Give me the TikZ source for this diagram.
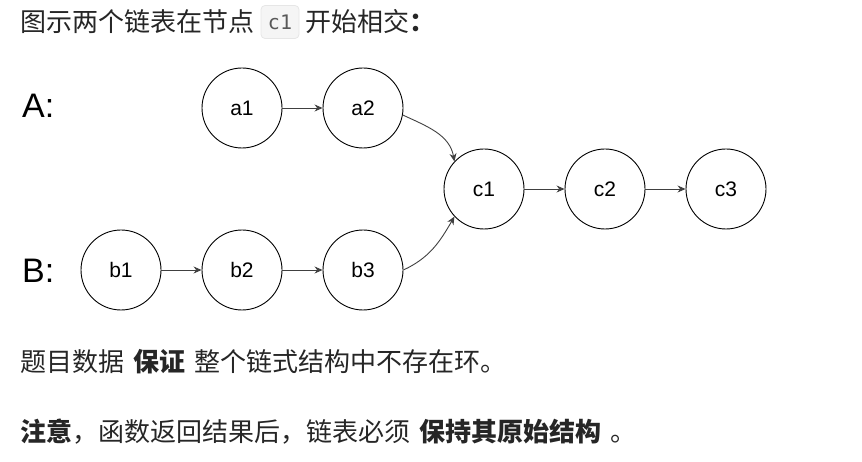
\documentclass[tikz,border=0pt]{standalone}
\usepackage{fontspec}
\setmainfont{Liberation Sans}
\newfontfamily\cjk{Noto Sans CJK SC}
\setmonofont{DejaVu Sans Mono}
\usetikzlibrary{arrows.meta}
\definecolor{txt}{HTML}{262626}
\definecolor{codebg}{HTML}{F5F5F5}
\definecolor{codeborder}{HTML}{E6E6E6}
\definecolor{edge}{HTML}{404040}
\newcommand{\gap}{\hspace{9pt}}
\tikzset{
  listnode/.style={circle, draw=black, line width=0.9pt, minimum size=80pt, inner sep=0pt, font=\fontsize{21}{24}\selectfont},
  link/.style={draw=edge, line width=0.9pt, -{Stealth[length=8pt,width=7pt]}},
  bigletter/.style={font=\fontsize{34}{38}\selectfont, anchor=west, inner sep=0pt},
  para/.style={font=\cjk\fontsize{26}{30}\selectfont, text=txt, anchor=west, inner sep=0pt},
  codebox/.style={fill=codebg, draw=codeborder, line width=0.8pt, rounded corners=4pt, minimum width=38pt, minimum height=33pt, inner sep=0pt, font=\ttfamily\fontsize{20}{22}\selectfont, text=black!65}
}
\begin{document}
\begin{tikzpicture}[x=1pt,y=-1pt]
\useasboundingbox (0,0) rectangle (862,462);
% top line
\node[para] (t1) at (20,22) {图示两个链表在节点};
\node[codebox] (code) at (280,22) {c1};
\node[para] (t2) at (305,22) {开始相交\textbf{：}};
% labels
\node[bigletter] (la) at (22,106) {A:};
\node[bigletter] (lb) at (22,271) {B:};
% nodes
\node[listnode] (a1) at (242,108) {a1};
\node[listnode] (a2) at (363,108) {a2};
\node[listnode] (c1) at (484,189) {c1};
\node[listnode] (c2) at (605,189) {c2};
\node[listnode] (c3) at (726,189) {c3};
\node[listnode] (b1) at (121,270) {b1};
\node[listnode] (b2) at (242,270) {b2};
\node[listnode] (b3) at (363,270) {b3};
% links
\draw[link] (a1) -- (a2);
\draw[link] (c1) -- (c2);
\draw[link] (c2) -- (c3);
\draw[link] (b1) -- (b2);
\draw[link] (b2) -- (b3);
\draw[link] (a2.-10) to[out=-25,in=100] (c1.137);
\draw[link] (b3.east) to[out=25,in=-120] (c1.223);
% bottom text
\node[para] (p1) at (20,362) {题目数据\gap\textbf{保证}\gap 整个链式结构中不存在环。};
\node[para] (p2) at (20,432) {\textbf{注意}，函数返回结果后，链表必须\gap\textbf{保持其原始结构}\gap 。};
\end{tikzpicture}
\end{document}
